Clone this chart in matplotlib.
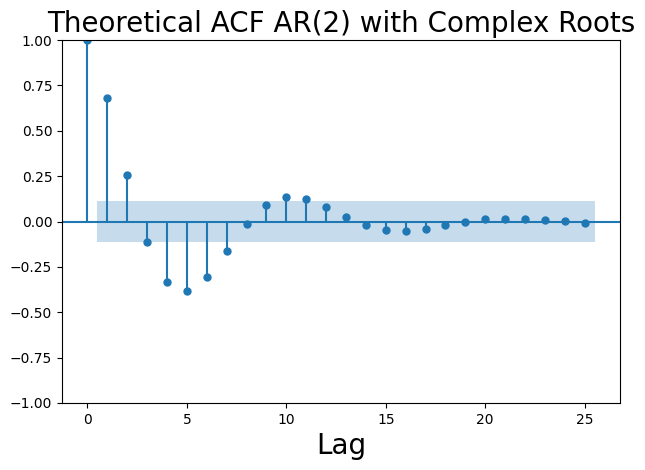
import matplotlib
matplotlib.use("Agg")
import matplotlib.pyplot as plt
import numpy as np

# theoretical ACF values
lags = list(range(26))
acf = [1.0, 0.68, 0.256, -0.113, -0.333, -0.383, -0.306, -0.163, -0.014, 0.091,
       0.135, 0.124, 0.08, 0.025, -0.019, -0.048, -0.054, -0.043, -0.021, -0.005,
       0.013, 0.013, 0.013, 0.006, 0.002, -0.009]
conf = 0.111

fig = plt.figure(figsize=(6.45, 4.70), dpi=100)
ax = fig.add_axes([62 / 645, 67 / 470, 558 / 645, 363 / 470])

ax.vlines(lags, [0], acf, colors="C0")
ax.plot(lags, acf, "o", color="C0", markersize=5)
ax.axhline(0, color="C0")

band_x = np.array(lags[1:], dtype=float)
band_x[0] -= 0.5
band_x[-1] += 0.5
ax.fill_between(band_x, -conf, conf, color="C0", alpha=0.25, linewidth=0)

ax.set_ylim(-1, 1)
ax.set_title("Theoretical ACF AR(2) with Complex Roots", fontsize=20)
ax.set_xlabel("Lag", fontsize=20)

fig.savefig("out.png", dpi=100)
